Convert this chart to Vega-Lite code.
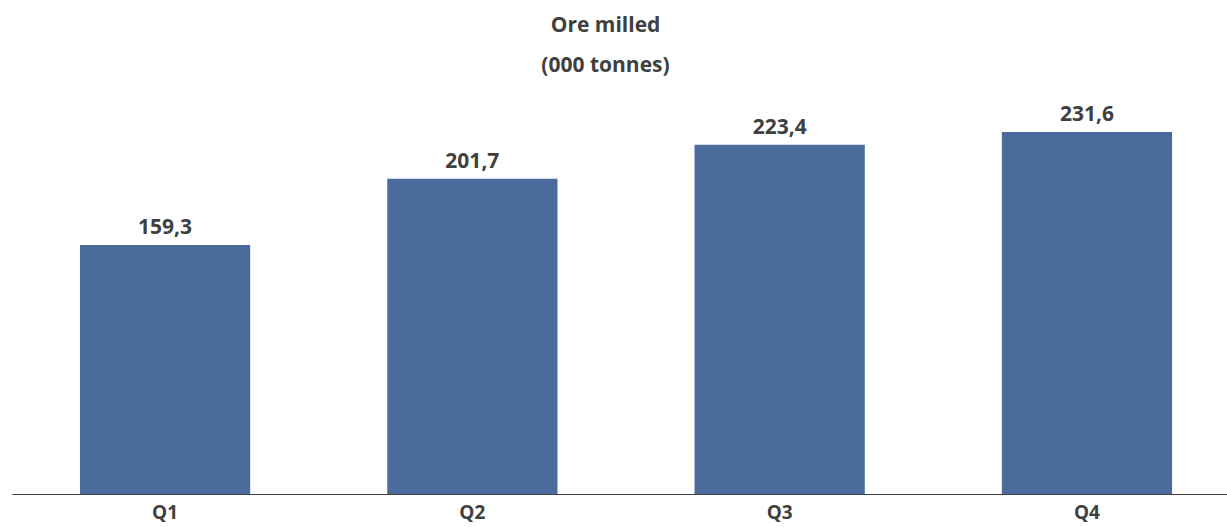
{
  "$schema": "https://vega.github.io/schema/vega-lite/v6.json",
  "width": 1215,
  "height": 394,
  "autosize": {"type": "none"},
  "padding": {"left": 12, "top": 100, "right": 0, "bottom": 33},
  "background": "white",
  "config": {"view": {"stroke": null}, "font": "Open Sans"},
  "title": {
    "text": ["Ore milled", "(000 tonnes)"],
    "font": "Open Sans",
    "fontSize": 21,
    "fontWeight": "bold",
    "color": "#404040",
    "anchor": "middle",
    "lineHeight": 40,
    "dx": -14,
    "offset": 24
  },
  "data": {
    "values": [
      {"quarter": "Q1", "value": 159.3, "label": "159,3"},
      {"quarter": "Q2", "value": 201.7, "label": "201,7"},
      {"quarter": "Q3", "value": 223.4, "label": "223,4"},
      {"quarter": "Q4", "value": 231.6, "label": "231,6"}
    ]
  },
  "encoding": {
    "x": {
      "field": "quarter",
      "type": "nominal",
      "sort": null,
      "scale": {"paddingInner": 0.446, "paddingOuter": 0.2, "align": 0.553},
      "axis": {
        "title": null,
        "labelAngle": 0,
        "ticks": false,
        "domainColor": "#404040",
        "domainWidth": 1.2,
        "labelFont": "Open Sans",
        "labelFontSize": 19,
        "labelFontWeight": "bold",
        "labelColor": "#404040",
        "labelPadding": 9
      }
    },
    "y": {
      "field": "value",
      "type": "quantitative",
      "scale": {"domain": [0, 252], "nice": false},
      "axis": null
    }
  },
  "layer": [
    {"mark": {"type": "bar", "color": "#4a6b9b"}},
    {
      "mark": {
        "type": "text",
        "baseline": "alphabetic",
        "dy": -11,
        "font": "Open Sans",
        "fontSize": 21,
        "fontWeight": "bold",
        "color": "#404040"
      },
      "encoding": {"text": {"field": "label"}}
    }
  ]
}
